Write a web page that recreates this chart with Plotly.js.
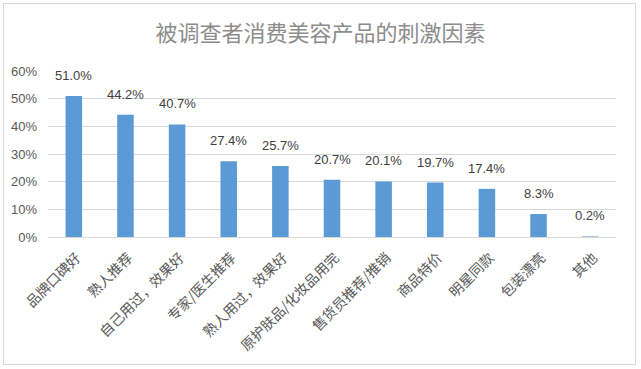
<!DOCTYPE html>
<html><head><meta charset="utf-8">
<script src="https://cdn.plot.ly/plotly-3.0.1.min.js"></script>
<style>html,body{margin:0;padding:0;background:#fff;}#wrap{position:relative;width:641px;height:369px;}#frame{position:absolute;left:3px;top:3px;width:633px;height:362px;border:1px solid #d9d9d9;box-sizing:border-box;pointer-events:none;}#chart{width:641px;height:369px;}</style>
</head><body>
<div id="wrap"><div id="chart"></div><div id="frame"></div></div>
<script>
const categories = ["品牌口碑好","熟人推荐","自己用过，效果好","专家/医生推荐","熟人用过，效果好","原护肤品/化妆品用完","售货员推荐/推销","商品特价","明星同款","包装漂亮","其他"];
const values = [51.0, 44.2, 40.7, 27.4, 25.7, 20.7, 20.1, 19.7, 17.4, 8.3, 0.2];
const valueLabels = ["51.0%","44.2%","40.7%","27.4%","25.7%","20.7%","20.1%","19.7%","17.4%","8.3%","0.2%"];
const yTicks = [0,10,20,30,40,50,60];
const yTickLabels = ["0%","10%","20%","30%","40%","50%","60%"];
const fam = "Liberation Sans, Noto Sans CJK SC, sans-serif";

const trace = {type:"bar", x:categories, y:values, marker:{color:"#5b9bd5"}, hoverinfo:"none"};
const annotations = categories.map((c,i)=>({x:c, y:values[i], text:valueLabels[i], showarrow:false, yanchor:"bottom", yshift:11, font:{family:fam,size:13,color:"#404040"}}));
const layout = {
  width:641, height:369,
  margin:{l:48, r:25, t:71, b:132},
  paper_bgcolor:"rgba(0,0,0,0)", plot_bgcolor:"#fff",
  bargap:0.68,
  showlegend:false,
  title:{text:"被调查者消费美容产品的刺激因素", x:0.5, xanchor:"center", y:0.91, yanchor:"middle", font:{family:"Noto Sans CJK SC, sans-serif", size:22, color:"#8c8c8c"}},
  xaxis:{type:"category", tickangle:-45, tickfont:{family:"Noto Sans CJK SC, sans-serif", size:14, color:"#595959"}, ticklabelstandoff:6, ticklabelshift:3, showline:true, linecolor:"#d9d9d9", linewidth:1, ticks:"", showgrid:false, fixedrange:true},
  yaxis:{range:[0,60], tickvals:yTicks, ticktext:yTickLabels, tickfont:{family:fam, size:13, color:"#595959"}, ticklabelstandoff:10, gridcolor:"#d9d9d9", gridwidth:1, zeroline:false, showline:false, ticks:"", fixedrange:true},
  annotations:annotations
};
Plotly.newPlot("chart",[trace],layout,{displayModeBar:false,staticPlot:true});
</script>
</body></html>
